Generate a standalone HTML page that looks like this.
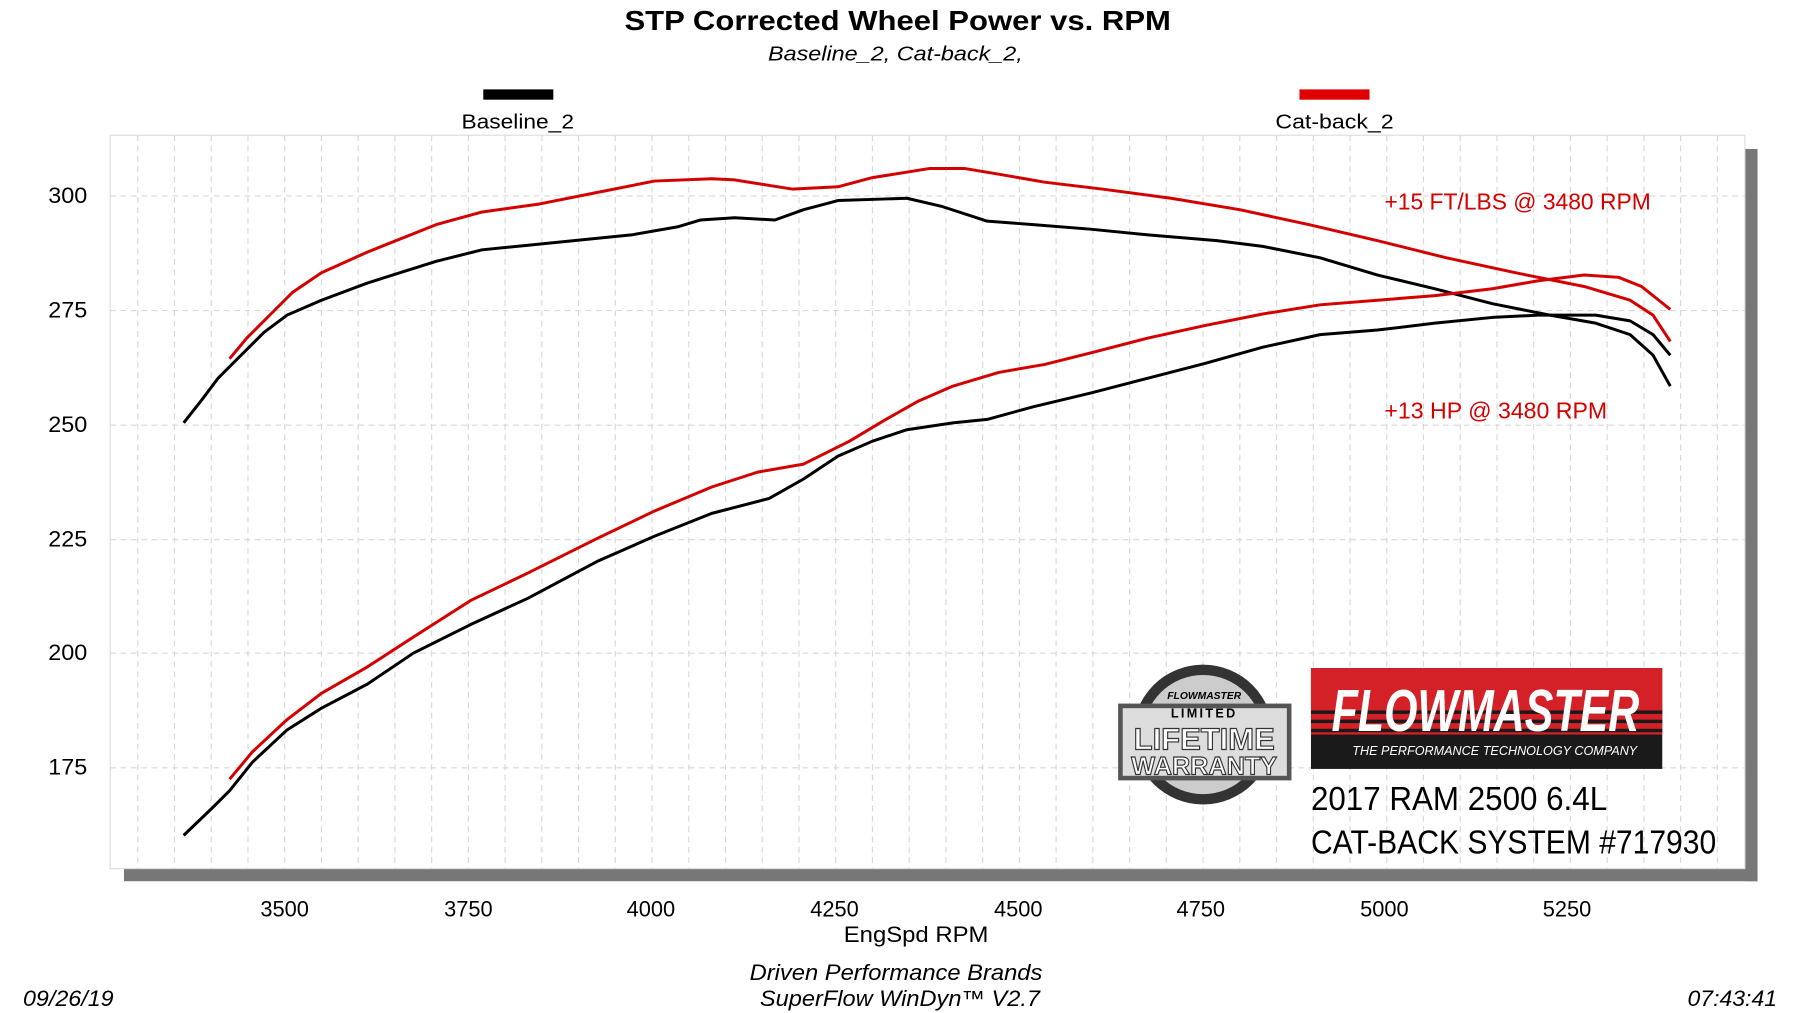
<!DOCTYPE html>
<html><head><meta charset="utf-8"><style>
html,body{margin:0;padding:0;background:#fff;}
svg{display:block;}
text{font-family:"Liberation Sans",sans-serif;}
</style></head><body>
<svg width="1800" height="1013" viewBox="0 0 1568 884" preserveAspectRatio="none" xmlns="http://www.w3.org/2000/svg">
<rect width="1568" height="884" fill="#fff"/>
<text x="544" y="26" font-size="24" font-weight="bold" fill="#000" textLength="476" lengthAdjust="spacingAndGlyphs">STP Corrected Wheel Power vs. RPM</text>
<text x="669" y="53" font-size="18" font-style="italic" fill="#000" textLength="222" lengthAdjust="spacingAndGlyphs">Baseline_2, Cat-back_2,</text>
<rect x="421" y="78" width="61" height="9" fill="#000"/>
<text x="402" y="112" font-size="18" textLength="98" lengthAdjust="spacingAndGlyphs">Baseline_2</text>
<rect x="1132" y="78" width="61" height="9" fill="#e00000"/>
<text x="1111" y="112" font-size="18" textLength="103" lengthAdjust="spacingAndGlyphs">Cat-back_2</text>
<rect x="1520" y="130" width="11" height="639" fill="#777"/>
<rect x="108" y="758" width="1423" height="11" fill="#777"/>
<rect x="96" y="118" width="1424" height="640" fill="#fff" stroke="#ddd" stroke-width="1"/>
<g stroke="#d8d8d8" stroke-width="1" stroke-dasharray="5,4">
<line x1="120" y1="118" x2="120" y2="758"/><line x1="152" y1="118" x2="152" y2="758"/><line x1="184" y1="118" x2="184" y2="758"/><line x1="216" y1="118" x2="216" y2="758"/><line x1="248" y1="118" x2="248" y2="758"/><line x1="280" y1="118" x2="280" y2="758"/><line x1="312" y1="118" x2="312" y2="758"/><line x1="344" y1="118" x2="344" y2="758"/><line x1="376" y1="118" x2="376" y2="758"/><line x1="408" y1="118" x2="408" y2="758"/><line x1="440" y1="118" x2="440" y2="758"/><line x1="472" y1="118" x2="472" y2="758"/><line x1="504" y1="118" x2="504" y2="758"/><line x1="536" y1="118" x2="536" y2="758"/><line x1="568" y1="118" x2="568" y2="758"/><line x1="600" y1="118" x2="600" y2="758"/><line x1="632" y1="118" x2="632" y2="758"/><line x1="664" y1="118" x2="664" y2="758"/><line x1="696" y1="118" x2="696" y2="758"/><line x1="728" y1="118" x2="728" y2="758"/><line x1="760" y1="118" x2="760" y2="758"/><line x1="792" y1="118" x2="792" y2="758"/><line x1="824" y1="118" x2="824" y2="758"/><line x1="856" y1="118" x2="856" y2="758"/><line x1="888" y1="118" x2="888" y2="758"/><line x1="920" y1="118" x2="920" y2="758"/><line x1="952" y1="118" x2="952" y2="758"/><line x1="984" y1="118" x2="984" y2="758"/><line x1="1016" y1="118" x2="1016" y2="758"/><line x1="1048" y1="118" x2="1048" y2="758"/><line x1="1080" y1="118" x2="1080" y2="758"/><line x1="1112" y1="118" x2="1112" y2="758"/><line x1="1144" y1="118" x2="1144" y2="758"/><line x1="1176" y1="118" x2="1176" y2="758"/><line x1="1208" y1="118" x2="1208" y2="758"/><line x1="1240" y1="118" x2="1240" y2="758"/><line x1="1272" y1="118" x2="1272" y2="758"/><line x1="1304" y1="118" x2="1304" y2="758"/><line x1="1336" y1="118" x2="1336" y2="758"/><line x1="1368" y1="118" x2="1368" y2="758"/><line x1="1400" y1="118" x2="1400" y2="758"/><line x1="1432" y1="118" x2="1432" y2="758"/><line x1="1464" y1="118" x2="1464" y2="758"/><line x1="1496" y1="118" x2="1496" y2="758"/>
<line x1="96" y1="171" x2="1520" y2="171"/><line x1="96" y1="271" x2="1520" y2="271"/><line x1="96" y1="371" x2="1520" y2="371"/><line x1="96" y1="471" x2="1520" y2="471"/><line x1="96" y1="570" x2="1520" y2="570"/><line x1="96" y1="670" x2="1520" y2="670"/>
</g>
<g font-size="19" fill="#000">
<text x="76" y="177" text-anchor="end" textLength="34" lengthAdjust="spacingAndGlyphs">300</text><text x="76" y="277" text-anchor="end" textLength="34" lengthAdjust="spacingAndGlyphs">275</text><text x="76" y="377" text-anchor="end" textLength="34" lengthAdjust="spacingAndGlyphs">250</text><text x="76" y="477" text-anchor="end" textLength="34" lengthAdjust="spacingAndGlyphs">225</text><text x="76" y="576" text-anchor="end" textLength="34" lengthAdjust="spacingAndGlyphs">200</text><text x="76" y="676" text-anchor="end" textLength="34" lengthAdjust="spacingAndGlyphs">175</text>
<g text-anchor="middle"><text x="248" y="800">3500</text><text x="408" y="800">3750</text><text x="567" y="800">4000</text><text x="727" y="800">4250</text><text x="887" y="800">4500</text><text x="1046" y="800">4750</text><text x="1206" y="800">5000</text><text x="1365" y="800">5250</text></g>
<text x="735" y="822" textLength="126" lengthAdjust="spacingAndGlyphs">EngSpd  RPM</text>
<text x="653" y="855" font-style="italic" textLength="255" lengthAdjust="spacingAndGlyphs">Driven Performance Brands</text>
<text x="662" y="878" font-style="italic" textLength="244" lengthAdjust="spacingAndGlyphs">SuperFlow WinDyn™  V2.7</text>
<text x="20" y="878" font-style="italic" textLength="79" lengthAdjust="spacingAndGlyphs">09/26/19</text>
<text x="1470" y="878" font-style="italic" textLength="78" lengthAdjust="spacingAndGlyphs">07:43:41</text>
</g>
<g fill="none" stroke-width="2.6" stroke-linejoin="round">
<polyline stroke="#000" points="160,369 175,350 190,330 210,310 230,290 250,275 280,262 320,247 380,228 420,218 460,214 500,210 550,205 590,198 610,192 640,190 675,192 700,183 730,175 790,173 820,180 860,193 900,196 950,200 1000,205 1060,210 1100,215 1150,225 1200,240 1250,252 1300,265 1350,275 1390,282 1420,292 1440,310 1455,337"/>
<polyline stroke="#d40000" points="200,313 215,295 235,275 255,255 280,238 320,220 380,196 420,185 470,178 520,168 570,158 620,156 640,157 690,165 730,163 760,155 810,147 840,147 870,152 910,159 960,165 1020,173 1080,183 1140,196 1200,210 1260,225 1320,238 1380,250 1420,262 1440,275 1455,298"/>
<polyline stroke="#000" points="160,729 185,705 200,690 220,665 250,637 280,618 320,597 360,570 410,545 460,522 520,490 570,468 620,448 670,435 700,418 730,398 760,385 790,375 830,369 860,366 900,355 950,343 1000,330 1050,317 1100,303 1150,292 1200,288 1250,282 1300,277 1340,275 1390,275 1420,280 1440,292 1455,310"/>
<polyline stroke="#d40000" points="200,680 220,656 250,628 280,605 320,582 360,556 410,524 460,500 520,470 570,446 620,425 660,412 700,405 740,385 770,367 800,350 830,337 870,325 910,318 950,308 1000,295 1050,284 1100,274 1150,266 1200,262 1250,258 1300,252 1340,245 1380,240 1410,242 1430,250 1455,270"/>
</g>
<text x="1206" y="183" font-size="20" fill="#d40000" textLength="232" lengthAdjust="spacingAndGlyphs">+15 FT/LBS @ 3480 RPM</text>
<text x="1206" y="365" font-size="20" fill="#d40000" textLength="194" lengthAdjust="spacingAndGlyphs">+13 HP @ 3480 RPM</text>
<circle cx="1048" cy="641" r="61" fill="#333"/>
<circle cx="1048" cy="641" r="52" fill="#ccc"/>
<rect x="974" y="614" width="151" height="67" fill="#555"/>
<rect x="978" y="618" width="143" height="59" fill="#ddd"/>
<text x="1049" y="610" text-anchor="middle" font-size="9" font-style="italic" font-weight="bold">FLOWMASTER</text>
<text x="1049" y="626" text-anchor="middle" font-size="11" font-weight="bold" letter-spacing="2">LIMITED</text>
<text x="1049" y="654" text-anchor="middle" font-size="27" font-weight="bold" fill="#fff" stroke="#333" stroke-width="1">LIFETIME</text>
<text x="1049" y="676" text-anchor="middle" font-size="22" font-weight="bold" fill="#fff" stroke="#333" stroke-width="1">WARRANTY</text>
<rect x="1142" y="583" width="306" height="88" fill="#1a1a1a"/>
<rect x="1142" y="583" width="306" height="58" fill="#d42027"/>
<g fill="#1a1a1a"><rect x="1142" y="620" width="306" height="3"/><rect x="1142" y="628" width="306" height="3"/><rect x="1142" y="636" width="306" height="3"/></g>
<text x="1160" y="638" font-size="52" font-weight="bold" font-style="italic" fill="#fff" textLength="268" lengthAdjust="spacingAndGlyphs">FLOWMASTER</text>
<text x="1178" y="659" font-size="11" font-style="italic" fill="#fff">THE PERFORMANCE TECHNOLOGY COMPANY</text>
<text x="1142" y="707" font-size="29" fill="#000" textLength="258" lengthAdjust="spacingAndGlyphs">2017 RAM 2500 6.4L</text>
<text x="1142" y="745" font-size="29" fill="#000" textLength="353" lengthAdjust="spacingAndGlyphs">CAT-BACK SYSTEM #717930</text>
</svg>
</body></html>
